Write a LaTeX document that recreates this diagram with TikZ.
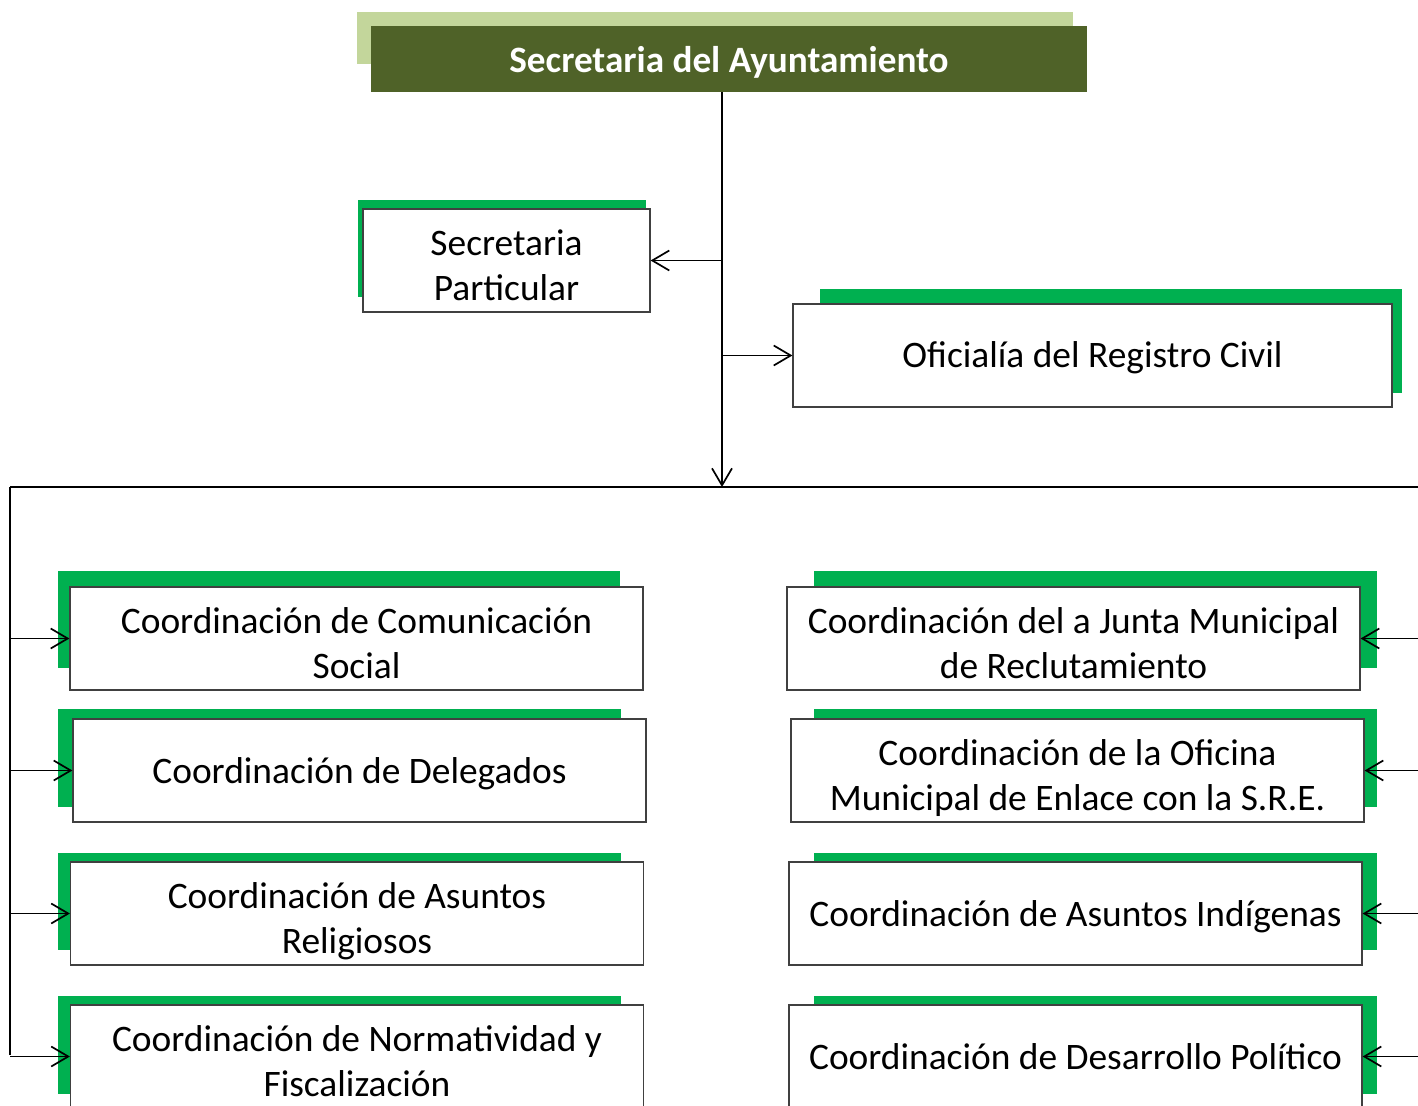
\documentclass[tikz,border=0pt]{standalone}
\usepackage{fontspec}
\setmainfont{Carlito}
\usetikzlibrary{arrows.meta,calc,backgrounds}
\definecolor{ink}    {HTML}{000000}
\definecolor{frame}  {HTML}{404040}
\definecolor{head}   {HTML}{4F6228}
\definecolor{headbg} {HTML}{C3D69B}
\definecolor{leaf}   {HTML}{00B050}
\tikzset{
  unit/.style    ={draw=frame, fill=white, line width=0.6pt,
                   minimum width=286.5pt, minimum height=51.5pt,
                   align=center, inner sep=0pt,
                   text height=15pt, text depth=2.5pt,
                   font=\fontsize{18.7}{22.5}\selectfont},
  unit2/.style   ={unit, text height=42.5pt, text depth=2.5pt},
  headbox/.style ={fill=head, text=white, minimum width=358pt, minimum height=33pt,
                   inner sep=0pt, text height=15.5pt, text depth=2pt,
                   font=\fontsize{18.6}{21}\selectfont\bfseries},
  arr/.style     ={-{Straight Barb[length=8.5pt,width=10pt,line width=0.85pt]},
                   line width=0.85pt, color=ink},
  wire/.style    ={line width=0.85pt, color=ink},
}
\begin{document}
\begin{tikzpicture}[x=0.5pt,y=-0.5pt]
  \useasboundingbox (0,0) rectangle (1418,1106);

  % head of the office
  \node[headbox] (top) at (729,59) {Secretaria del Ayuntamiento};

  % staff units
  \node[unit2,minimum width=143.5pt] (sp) at (506.5,260.5) {Secretaria\\Particular};
  \node[unit,minimum width=299.5pt] (orc) at (1092.5,355.5) {Oficialía del Registro Civil};

  % coordinations, left column
  \node[unit2] (l1) at (356.5,638.5) {Coordinación de Comunicación\\Social};
  \node[unit]  (l2) at (359.5,770.5) {Coordinación de Delegados};
  \node[unit2] (l3) at (357,913.5)   {Coordinación de Asuntos\\Religiosos};
  \node[unit2] (l4) at (357,1056.5)  {Coordinación de Normatividad y\\Fiscalización};

  % coordinations, right column
  \node[unit2] (r1) at (1073.5,638.5) {Coordinación del a Junta Municipal\\de Reclutamiento};
  \node[unit2] (r2) at (1077.5,770.5) {Coordinación de la Oficina\\Municipal de Enlace con la S.R.E.};
  \node[unit]  (r3) at (1075.5,913.5) {Coordinación de Asuntos Indígenas};
  \node[unit]  (r4) at (1075.5,1056.5) {Coordinación de Desarrollo Político};

  % coloured offsets behind the boxes
  \begin{scope}[on background layer]
    \fill[headbg] ($(top.north west)+(-14,-14)$) rectangle ($(top.south east)+(-14,-28)$);
    \fill[leaf] ($(sp.north west)+(-4,-8)$) rectangle ($(sp.south east)+(-5,-16)$);
    \fill[leaf] ($(orc.north west)+(28,-14)$) rectangle ($(orc.south east)+(9,-15)$);
    \foreach \b/\dl/\dt/\dr/\db in {l1/-11/-15/-24/-23, l2/-14/-9/-26/-16,
        l3/-12/-8/-23/-16, l4/-12/-8/-23/-15, r1/28/-15/16/-23, r2/24/-9/12/-16,
        r3/26/-8/14/-16, r4/26/-8/14/-15}
      \fill[leaf] ($(\b.north west)+(\dl,\dt)$) rectangle ($(\b.south east)+(\dr,\db)$);
  \end{scope}

  % connectors
  \coordinate (hub) at (722,487);
  \coordinate (busl) at (10,487);
  \coordinate (busr) at (1422,487);
  \coordinate (busend) at (10,1055);

  \draw[arr] (top.south -| hub) -- (hub);
  \draw[arr] (sp.east -| hub) -- (sp.east);
  \draw[arr] (orc.west -| hub) -- (orc.west);
  \draw[wire] (busl) -- (busr);
  \draw[wire] (busl) -- (busend);

  \foreach \b in {l1,l2,l3,l4}
    \draw[arr] (\b.west -| busl) -- (\b.west);
  \foreach \b in {r1,r2,r3,r4}
    \draw[arr] (\b.east -| busr) -- (\b.east);
\end{tikzpicture}
\end{document}
